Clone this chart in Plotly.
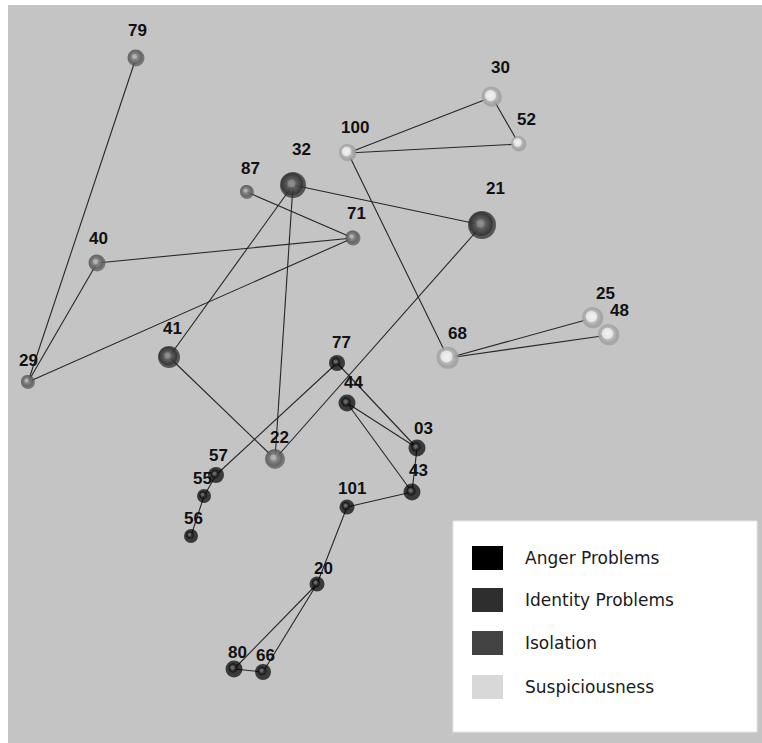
import plotly.graph_objects as go

# ---------------- data ----------------
node_ids = ["79", "100", "30", "52", "32", "87", "21", "71", "40", "25", "48", "68", "29",
            "41", "77", "44", "03", "22", "57", "43", "55", "101", "56", "20", "80", "66"]
node_x = [136, 348, 492, 519, 293, 247, 482, 353, 97, 593, 609, 448, 28,
          169, 337, 347, 417, 275, 216, 412, 204, 347, 191, 317, 234, 263]
node_y = [58, 153, 97, 144, 185, 192, 225, 238, 263, 318, 335, 358, 382,
          357, 363, 403, 448, 459, 475, 492, 496, 507, 536, 584, 669, 672]
node_group = ["Isolation", "Suspiciousness", "Suspiciousness", "Suspiciousness",
              "Identity Problems", "Isolation", "Identity Problems", "Isolation", "Isolation",
              "Suspiciousness", "Suspiciousness", "Suspiciousness", "Isolation",
              "Identity Problems", "Anger Problems", "Anger Problems", "Anger Problems",
              "Isolation", "Anger Problems", "Anger Problems", "Anger Problems",
              "Anger Problems", "Anger Problems", "Anger Problems", "Anger Problems",
              "Anger Problems"]
node_weight = [17, 17, 20, 15, 26, 14, 28, 15, 17, 21, 21, 22, 14,
               22, 16, 17, 17, 20, 16, 17, 14, 15, 14, 15, 17, 16]

edges = [("79", "29"), ("40", "29"), ("29", "71"), ("40", "71"), ("87", "71"),
         ("32", "41"), ("32", "22"), ("32", "21"), ("21", "22"), ("41", "22"),
         ("57", "77"), ("77", "03"), ("44", "03"), ("44", "43"), ("03", "43"),
         ("43", "101"), ("101", "20"), ("20", "80"), ("20", "66"), ("80", "66"),
         ("57", "55"), ("55", "56"),
         ("100", "30"), ("100", "52"), ("30", "52"), ("100", "68"),
         ("68", "25"), ("68", "48")]

legend_labels = ["Anger Problems", "Identity Problems", "Isolation", "Suspiciousness"]

# ---------------- styles ----------------
label_lift = [28, 26, 30, 25, 36, 24, 37, 25, 25, 25, 25, 25, 22,
              29, 21, 21, 20, 22, 20, 22, 18, 19, 18, 16, 17, 17]
label_nudge = [1, 7, 8, 7, 8, 3, 13, 3, 1, 12, 10, 9, 0,
               3, 4, 6, 6, 4, 2, 6, -2, 5, 2, 6, 3, 2]

base_col = {"Anger Problems": "#000000", "Identity Problems": "#262626",
            "Isolation": "#555555", "Suspiciousness": "#9c9c9c"}
shine_col = {"Anger Problems": "#6a6a6a", "Identity Problems": "#8c8c8c",
             "Isolation": "#b4b4b4", "Suspiciousness": "#f4f4f4"}
core_col = {"Anger Problems": "#7a7a7a", "Identity Problems": "#a0a0a0",
            "Isolation": "#c8c8c8", "Suspiciousness": "#ffffff"}
shine_frac = {"Anger Problems": 0.55, "Identity Problems": 0.85,
              "Isolation": 0.85, "Suspiciousness": 0.95}
core_frac = {"Anger Problems": 0.25, "Identity Problems": 0.3,
             "Isolation": 0.3, "Suspiciousness": 0.55}
swatch_col = {"Anger Problems": "#000000", "Identity Problems": "#2e2e2e",
              "Isolation": "#434343", "Suspiciousness": "#d8d8d8"}

idx = {n: i for i, n in enumerate(node_ids)}
ex, ey = [], []
for a, b in edges:
    ex += [node_x[idx[a]], node_x[idx[b]], None]
    ey += [node_y[idx[a]], node_y[idx[b]], None]

fig = go.Figure()
fig.add_trace(go.Scatter(x=ex, y=ey, mode="lines",
                         line=dict(color="#262626", width=1.1),
                         hoverinfo="skip", showlegend=False))
# sphere body
fig.add_trace(go.Scatter(
    x=node_x, y=node_y, mode="markers", text=node_ids, showlegend=False,
    marker=dict(size=node_weight, color=[base_col[g] for g in node_group],
                line=dict(width=0)),
))
# sphere shading (radial: centre = gradient colour, rim = marker colour)
fig.add_trace(go.Scatter(
    x=[v - 1 for v in node_x], y=[v - 1 for v in node_y], mode="markers",
    hoverinfo="skip", showlegend=False,
    marker=dict(size=[s * shine_frac[g] for s, g in zip(node_weight, node_group)],
                color=[base_col[g] for g in node_group],
                gradient=dict(type="radial", color=[shine_col[g] for g in node_group]),
                line=dict(width=0)),
))
# specular core
fig.add_trace(go.Scatter(
    x=[v - 1.5 for v in node_x], y=[v - 1.5 for v in node_y], mode="markers",
    hoverinfo="skip", showlegend=False,
    marker=dict(size=[s * core_frac[g] for s, g in zip(node_weight, node_group)],
                color=[shine_col[g] for g in node_group],
                gradient=dict(type="radial", color=[core_col[g] for g in node_group]),
                line=dict(width=0)),
))

for i, n in enumerate(node_ids):
    fig.add_annotation(x=node_x[i], y=node_y[i], text="<b>" + n + "</b>",
                       showarrow=False, xshift=label_nudge[i], yshift=label_lift[i],
                       font=dict(family="Liberation Sans, Arial", size=17, color="#111111"))

# legend box
shapes = [dict(type="rect", xref="x", yref="y", x0=453, x1=757, y0=521, y1=732,
               fillcolor="white", line=dict(color="#e6e6e6", width=1), layer="above")]
row_y = [558, 600, 643, 687]
for lab, ry in zip(legend_labels, row_y):
    shapes.append(dict(type="rect", xref="x", yref="y", x0=472, x1=503, y0=ry - 12, y1=ry + 12,
                       fillcolor=swatch_col[lab], line=dict(width=0), layer="above"))
    fig.add_annotation(x=523, y=ry, text=lab, showarrow=False, xanchor="left",
                       font=dict(family="DejaVu Sans", size=17, color="#1a1a1a"))

fig.update_layout(
    width=762, height=743,
    margin=dict(l=8, r=0, t=5, b=0),
    paper_bgcolor="white", plot_bgcolor="#c4c4c4",
    shapes=shapes,
    xaxis=dict(range=[8, 762], visible=False, fixedrange=True),
    yaxis=dict(range=[743, 5], visible=False, fixedrange=True),
)

fig.write_html("out.html", config={"displayModeBar": False},
               post_script="document.body.style.margin='0';document.body.style.overflow='hidden';")
